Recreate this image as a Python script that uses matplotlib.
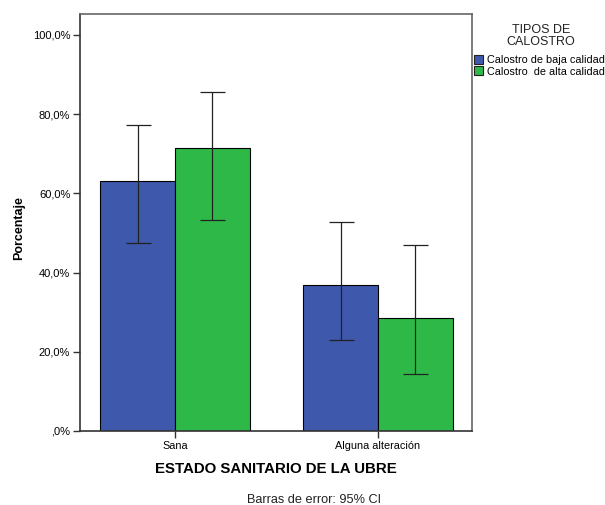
import matplotlib
matplotlib.use("Agg")
import matplotlib.pyplot as plt
import numpy as np
from matplotlib.patches import Patch

plt.rcParams['font.family'] = ['Liberation Sans', 'DejaVu Sans']

categories = ["Sana", "Alguna alteración"]
series_names = ["Calostro de baja calidad", "Calostro  de alta calidad"]
baja = [63.2, 36.8]
alta = [71.4, 28.6]
baja_lo = [47.4, 23.0]
baja_hi = [77.2, 52.9]
alta_lo = [53.4, 14.5]
alta_hi = [85.6, 46.9]
yticks = [0, 20, 40, 60, 80, 100]
ytick_labels = [",0%", "20,0%", "40,0%", "60,0%", "80,0%", "100,0%"]

colors = ["#3E58AC", "#2EB848"]

fig = plt.figure(figsize=(6.05, 5.05), dpi=100)
ax = fig.add_axes([80/605, 1-431/505, 392/605, 417/505])

x = np.arange(len(categories))
w = 0.369
for i, (vals, lo, hi) in enumerate([(baja, baja_lo, baja_hi), (alta, alta_lo, alta_hi)]):
    pos = x + (i - 0.5) * w
    ax.bar(pos, vals, width=w, color=colors[i], edgecolor="black", linewidth=0.8, zorder=2)
    vals_a = np.array(vals)
    yerr = [vals_a - np.array(lo), np.array(hi) - vals_a]
    ax.errorbar(pos, vals, yerr=yerr, fmt="none", ecolor="#222222", elinewidth=0.9,
                capsize=9, capthick=0.9, zorder=3)

ax.set_xlim(-0.468, 1.463)
ax.set_ylim(0, 105.3)
ax.set_yticks(yticks)
ax.set_yticklabels(ytick_labels, fontsize=8)
ax.set_xticks(x)
ax.set_xticklabels(categories, fontsize=7.8)
ax.tick_params(axis="both", direction="out", length=5, width=1, color="#333333", pad=2)
for s in ax.spines.values():
    s.set_color("#666666")
    s.set_linewidth(1.2)
ax.spines["left"].set_color("#333333")
ax.spines["bottom"].set_color("#333333")

ax.set_ylabel("Porcentaje", fontsize=9, fontweight="bold")
ax.yaxis.set_label_coords(-0.140, 0.487)
ax.set_xlabel("ESTADO SANITARIO DE LA UBRE", fontsize=10.8, fontweight="bold", labelpad=8)

fig.text(314/605, 1-500/505, "Barras de error: 95% CI", ha="center", va="center", fontsize=9.2, color="#222222")

fig.text(541/605, 1-36/505, "TIPOS DE\nCALOSTRO", ha="center", va="center", fontsize=9,
         linespacing=0.95, color="#222222")
handles = [Patch(facecolor=c, edgecolor="#222222", linewidth=0.8) for c in colors]
fig.legend(handles, series_names, loc="upper left", bbox_to_anchor=(473/605, 1-54/505),
           frameon=False, fontsize=7.8, handlelength=0.8, handleheight=0.85, handletextpad=0.35,
           labelspacing=0.12, borderaxespad=0, borderpad=0.1)

fig.savefig("out.png", dpi=100)
